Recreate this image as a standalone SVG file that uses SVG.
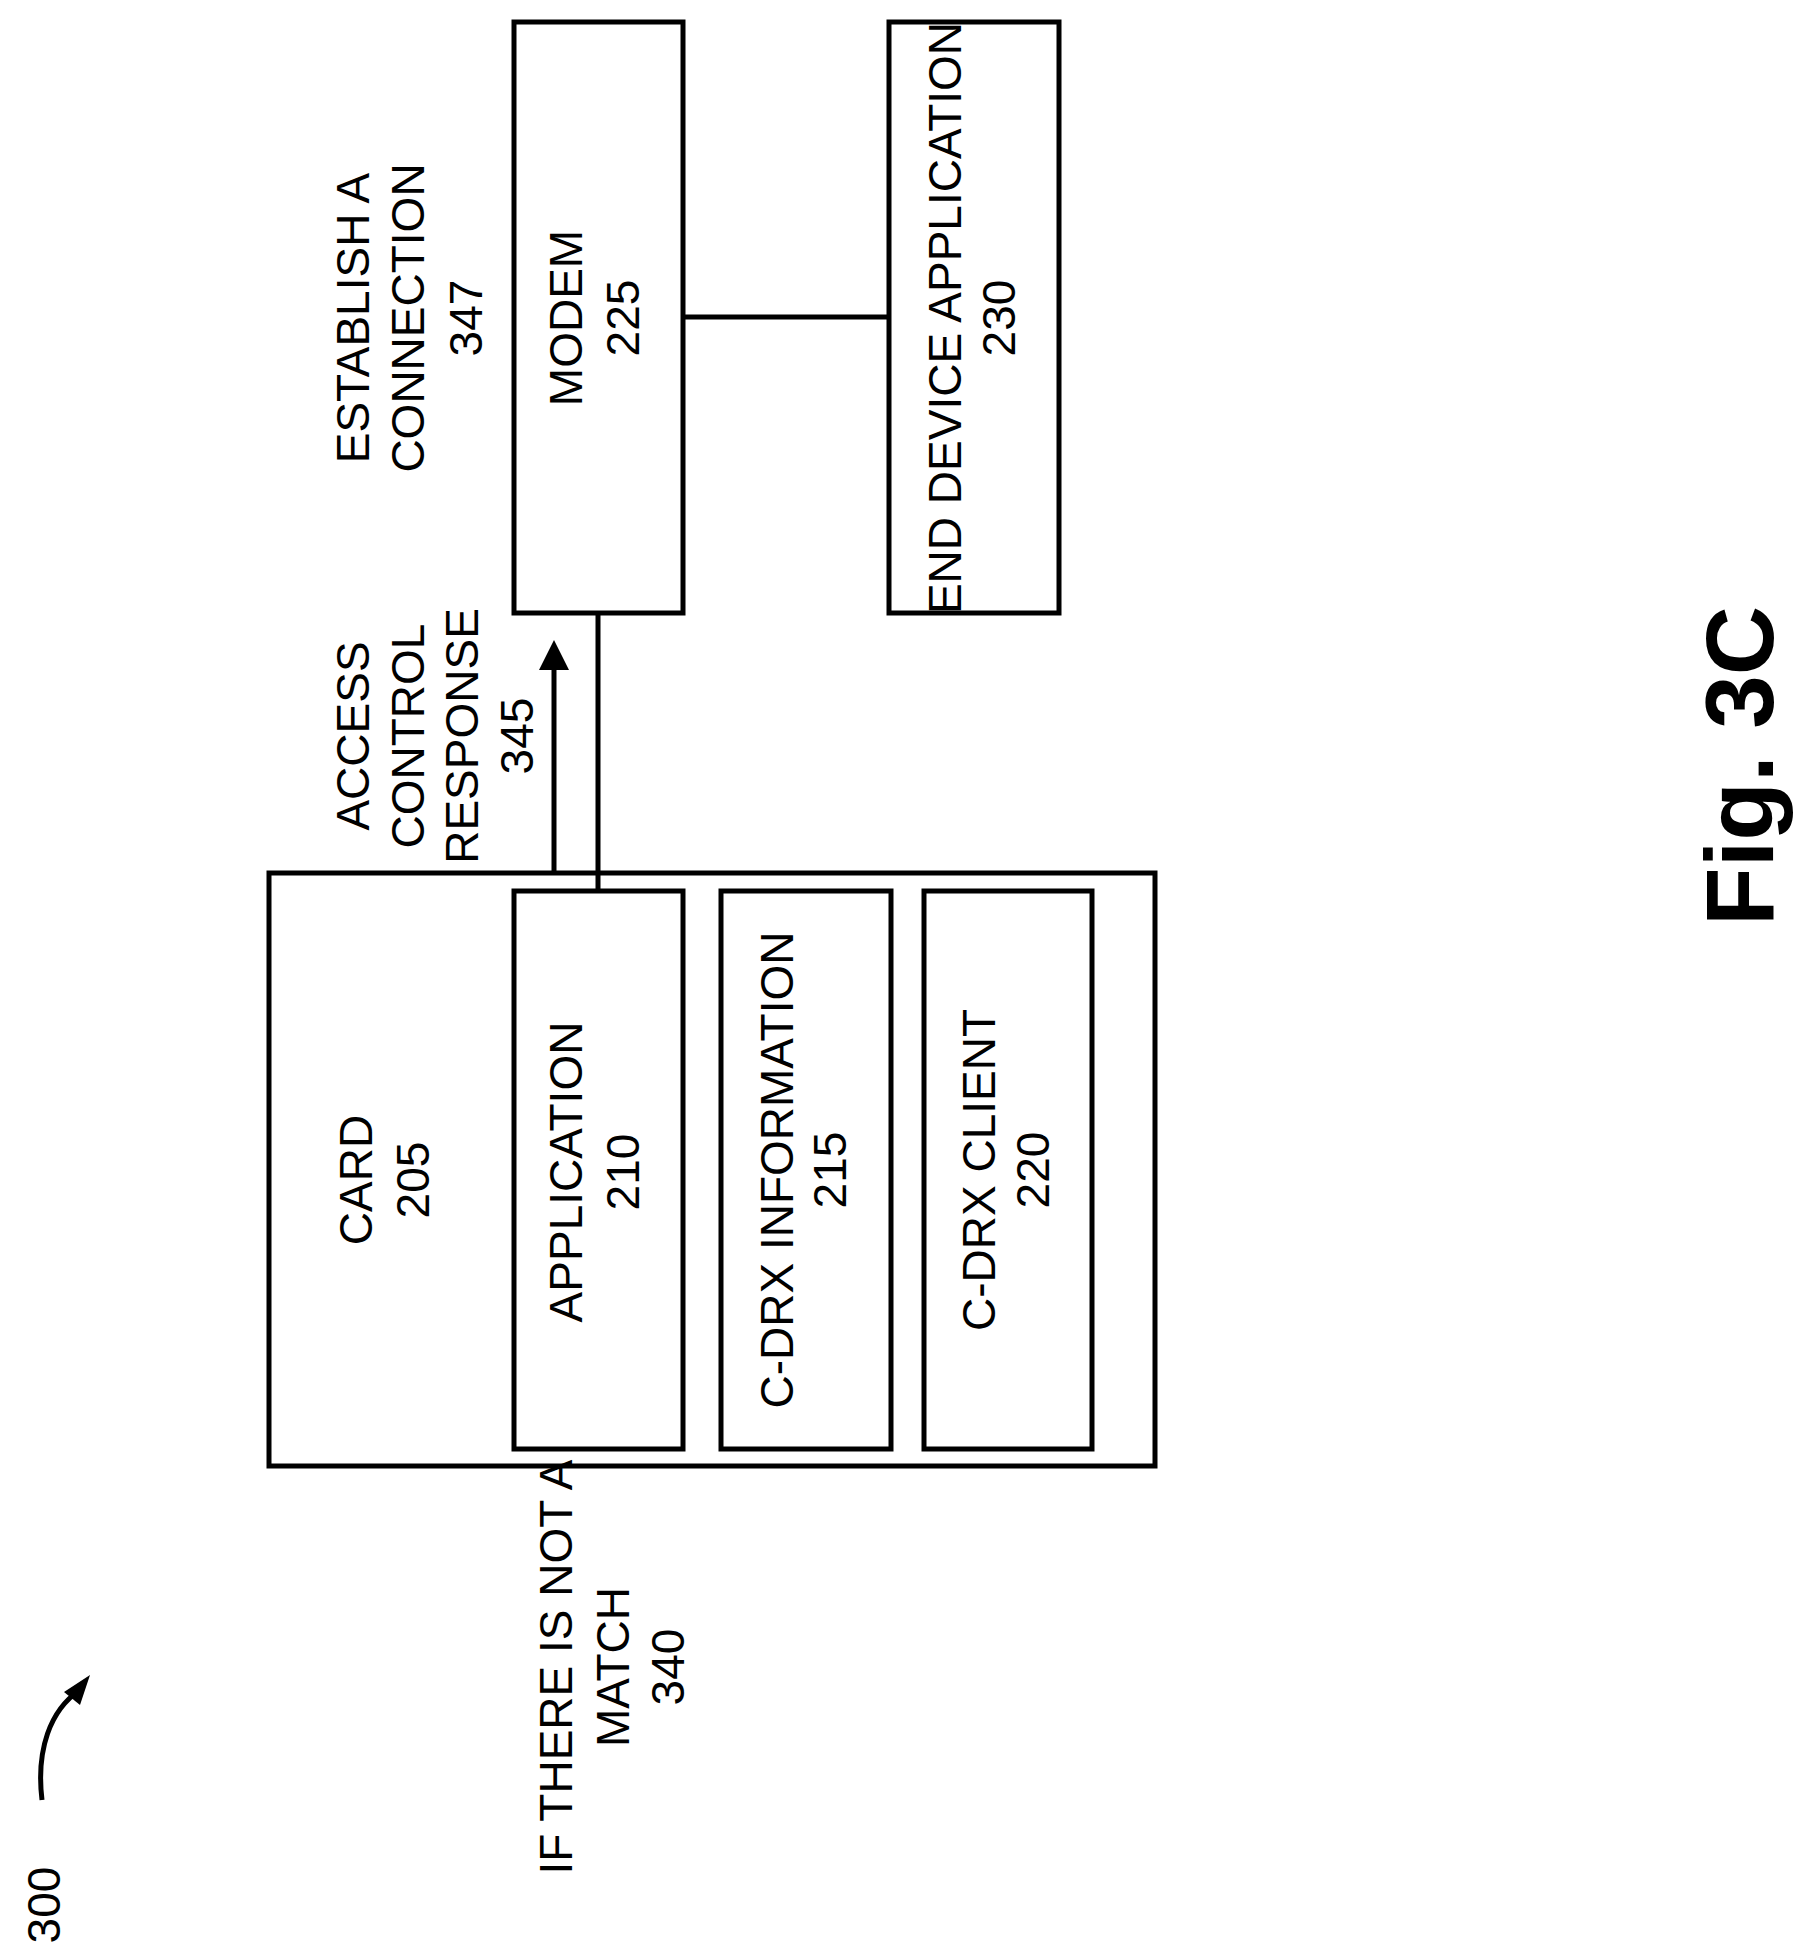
<svg xmlns="http://www.w3.org/2000/svg" width="1809" height="1960" viewBox="0 0 1809 1960">
<style>
.b{fill:#fff;stroke:#000;stroke-width:5}
.l{stroke:#000;stroke-width:5;fill:none}
text{font-family:"Liberation Sans",Arial,sans-serif;font-size:46px;fill:#000;text-anchor:middle}
</style>
<rect width="1809" height="1960" fill="#fff"/>
<g id="card"><rect class="b" x="269" y="873" width="886" height="593"/>
<text transform="translate(356,1180) rotate(-90)"><tspan x="0" y="16">CARD</tspan><tspan x="0" y="73">205</tspan></text></g>
<g id="app"><rect class="b" x="514" y="891" width="169" height="558"/>
<text transform="translate(566,1172) rotate(-90)"><tspan x="0" y="16">APPLICATION</tspan><tspan x="0" y="73">210</tspan></text></g>
<g id="info"><rect class="b" x="721" y="891" width="170" height="558"/>
<text transform="translate(777,1170) rotate(-90)"><tspan x="0" y="16">C-DRX INFORMATION</tspan><tspan x="0" y="69">215</tspan></text></g>
<g id="client"><rect class="b" x="924" y="891" width="168" height="558"/>
<text transform="translate(979,1170) rotate(-90)"><tspan x="0" y="16">C-DRX CLIENT</tspan><tspan x="0" y="70">220</tspan></text></g>
<g id="modem"><rect class="b" x="514" y="22" width="169" height="591"/>
<text transform="translate(566,318) rotate(-90)"><tspan x="0" y="16">MODEM</tspan><tspan x="0" y="73">225</tspan></text></g>
<g id="enddev"><rect class="b" x="889" y="22" width="170" height="591"/>
<text transform="translate(945,318) rotate(-90)"><tspan x="0" y="16">END DEVICE APPLICATION</tspan><tspan x="0" y="70">230</tspan></text></g>
<g id="connectors">
<line class="l" x1="683" y1="317" x2="889" y2="317"/>
<line class="l" x1="598" y1="613" x2="598" y2="891"/>
<line class="l" x1="554" y1="873" x2="554" y2="665"/>
<polygon points="554,640 539,670 569,670" fill="#000"/>
<path class="l" d="M42,1800 C36,1750 50,1710 80,1690"/>
<polygon points="90,1675 64,1692 80,1705" fill="#000"/>
</g>
<g id="labels">
<text transform="translate(353,318) rotate(-90)"><tspan x="0" y="16">ESTABLISH A</tspan><tspan x="0" y="71">CONNECTION</tspan><tspan x="0" y="129">347</tspan></text>
<text transform="translate(353,736) rotate(-90)"><tspan x="0" y="16">ACCESS</tspan><tspan x="0" y="71">CONTROL</tspan><tspan x="0" y="125">RESPONSE</tspan><tspan x="0" y="180">345</tspan></text>
<text transform="translate(556,1667) rotate(-90)"><tspan x="0" y="16">IF THERE IS NOT A</tspan><tspan x="0" y="73">MATCH</tspan><tspan x="0" y="128">340</tspan></text>
<text transform="translate(44,1905) rotate(-90)" y="16">300</text>
<text transform="translate(1739,766) rotate(-90)" y="34" style="font-size:96px;font-weight:bold">Fig. 3C</text>
</g>
</svg>
